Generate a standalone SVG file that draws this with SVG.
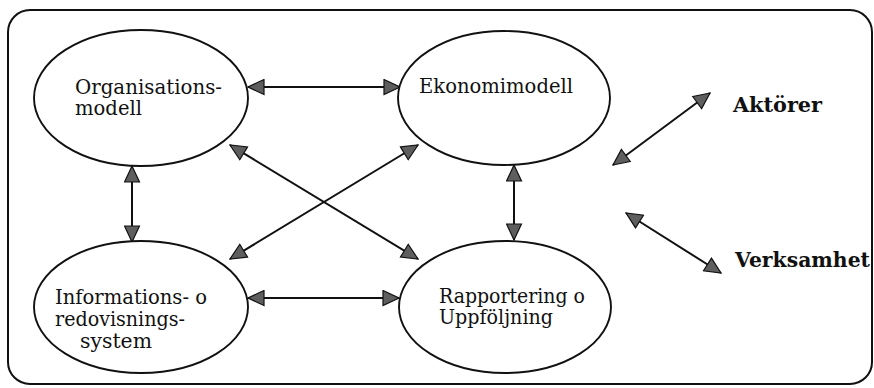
<svg xmlns="http://www.w3.org/2000/svg" width="874" height="388" viewBox="0 0 874 388">
  <style>
    .frame { fill: none; stroke: #111; stroke-width: 2; }
    .node { fill: #fff; stroke: #111; stroke-width: 1.9; }
    .label { font-family: "DejaVu Serif", "Liberation Serif", serif; font-size: 19.5px; fill: #111; }
    .ext { font-family: "DejaVu Serif", "Liberation Serif", serif; font-size: 20.5px; font-weight: bold; fill: #111; }
    .link { stroke: #111; stroke-width: 2; fill: none; marker-start: url(#head); marker-end: url(#head); }
  </style>
  <defs>
    <marker id="head" viewBox="0 0 18 17" refX="17" refY="8.5" markerWidth="18" markerHeight="17" markerUnits="userSpaceOnUse" orient="auto-start-reverse">
      <path d="M1,1 L17,8.5 L1,16 Z" fill="#5e5e5e" stroke="#111" stroke-width="1.2" stroke-linejoin="miter"/>
    </marker>
  </defs>

  <!-- surrounding frame -->
  <rect class="frame" x="8" y="10" width="864" height="374" rx="22" ry="22"/>

  <!-- connectors -->
  <g id="connectors">
    <line class="link" x1="248" y1="87" x2="400" y2="87"/>
    <line class="link" x1="248" y1="298" x2="399" y2="298"/>
    <line class="link" x1="132" y1="166" x2="132" y2="242"/>
    <line class="link" x1="514" y1="165" x2="514" y2="240"/>
    <line class="link" x1="230" y1="145" x2="418" y2="259"/>
    <line class="link" x1="230" y1="259" x2="418" y2="145"/>
    <line class="link" x1="710" y1="93" x2="613" y2="165"/>
    <line class="link" x1="626" y1="213" x2="721" y2="273"/>
  </g>

  <!-- nodes -->
  <g id="organisationsmodell">
    <ellipse class="node" cx="141" cy="98" rx="107" ry="68"/>
    <text class="label" x="75" y="94" textLength="147" lengthAdjust="spacingAndGlyphs">Organisations-</text>
    <text class="label" x="75" y="115" textLength="67" lengthAdjust="spacingAndGlyphs">modell</text>
  </g>

  <g id="ekonomimodell">
    <ellipse class="node" cx="504" cy="98" rx="106" ry="67"/>
    <text class="label" x="419" y="93" textLength="154" lengthAdjust="spacingAndGlyphs">Ekonomimodell</text>
  </g>

  <g id="informationssystem">
    <ellipse class="node" cx="141" cy="307" rx="107" ry="66"/>
    <text class="label" x="55" y="304" textLength="152" lengthAdjust="spacingAndGlyphs">Informations- o</text>
    <text class="label" x="55" y="326" textLength="130" lengthAdjust="spacingAndGlyphs">redovisnings-</text>
    <text class="label" x="80" y="348" textLength="72" lengthAdjust="spacingAndGlyphs">system</text>
  </g>

  <g id="rapportering">
    <ellipse class="node" cx="505" cy="307" rx="106" ry="66"/>
    <text class="label" x="439" y="303" textLength="146" lengthAdjust="spacingAndGlyphs">Rapportering o</text>
    <text class="label" x="439" y="324" textLength="114" lengthAdjust="spacingAndGlyphs">Uppföljning</text>
  </g>

  <g id="aktorer">
    <text class="ext" x="733" y="112" textLength="89" lengthAdjust="spacingAndGlyphs">Aktörer</text>
  </g>

  <g id="verksamhet">
    <text class="ext" x="735" y="267" textLength="135" lengthAdjust="spacingAndGlyphs">Verksamhet</text>
  </g>
</svg>
